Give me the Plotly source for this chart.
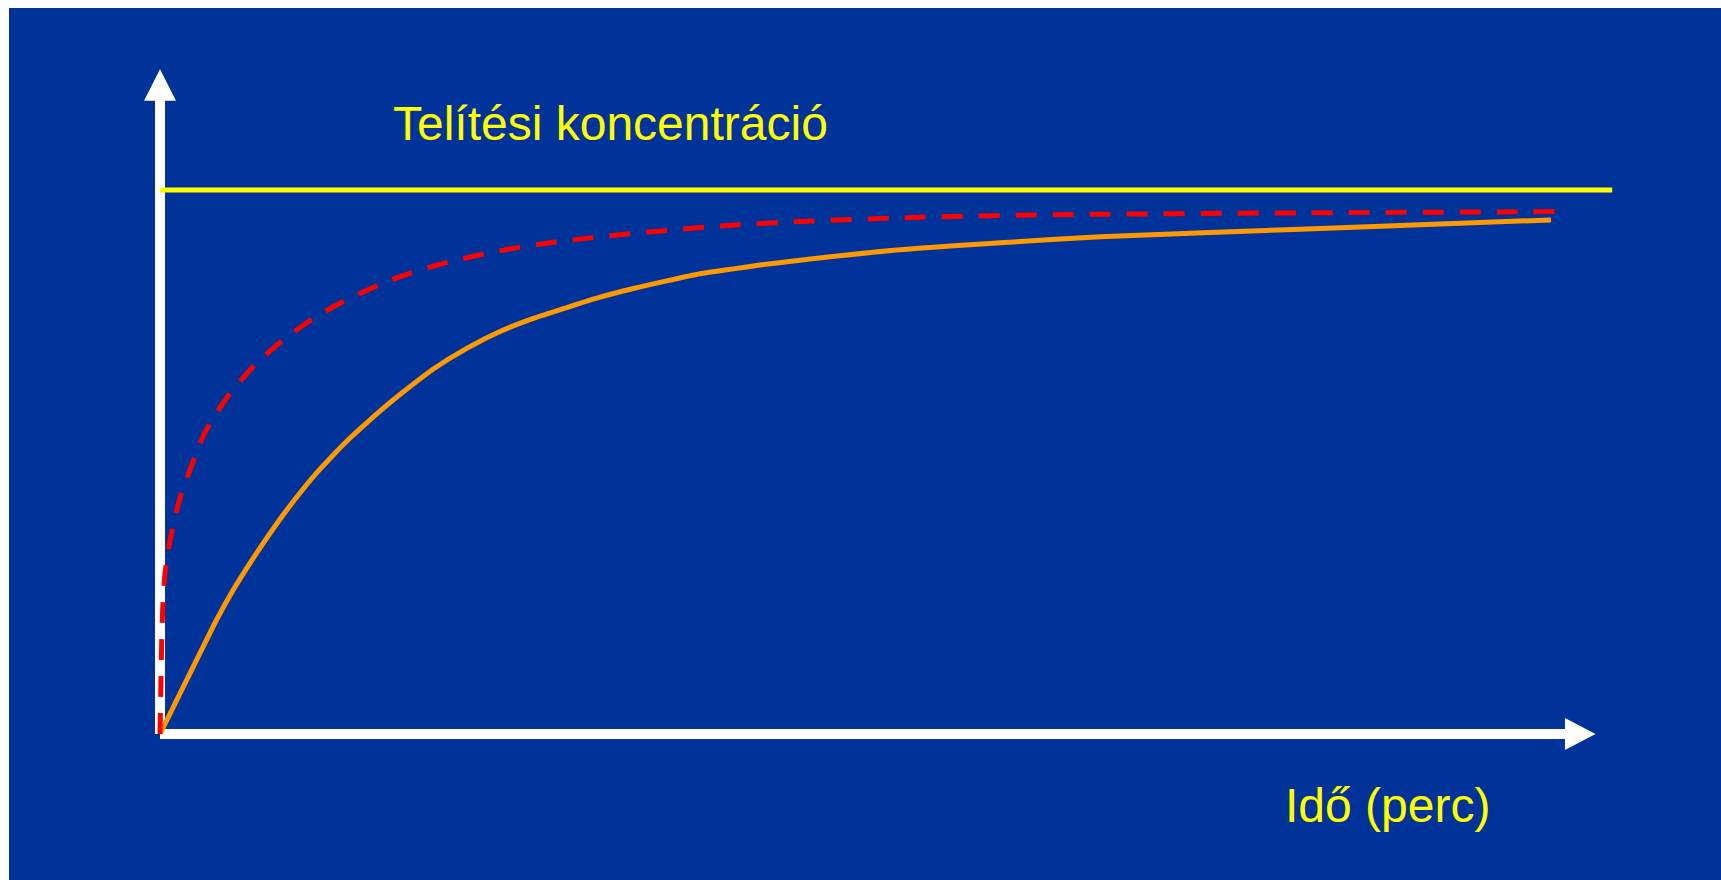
import plotly.graph_objects as go

# ---- data (time in arbitrary minutes, concentration in % of saturation) ----
t_slow = [0, 1.68, 2.88, 4.07, 5.27, 6.47, 7.67, 8.86, 10.06, 11.26, 12.46, 13.66,
          14.86, 16.06, 17.25, 19.65, 22.05, 24.44, 26.84, 29.24, 31.63, 34.03,
          36.43, 38.82, 41.22, 43.13, 46.0, 53.2, 60.4, 67.6, 82.0, 100.0]
c_slow = [0, 8.7, 14.9, 21.0, 26.5, 31.4, 36.0, 40.3, 44.3, 48.0, 51.3, 54.4,
          57.2, 59.9, 62.4, 67.1, 70.9, 74.0, 76.4, 78.4, 80.3, 81.9,
          83.3, 84.6, 85.5, 86.2, 87.1, 89.0, 90.3, 91.4, 92.8, 94.5]

t_fast = [0, 0.07, 0.12, 0.19, 0.36, 0.77, 1.39, 2.28, 3.24, 4.8, 6.47, 8.39, 10.55,
          12.8, 15.6, 17.73, 20.37, 23.0, 25.64, 28.28, 30.9, 33.55, 36.2, 38.82,
          41.57, 46.0, 53.2, 60.4, 65.6, 82.0, 97.6, 101.4]
c_fast = [0, 9.9, 16.7, 22.8, 29.6, 36.2, 43.0, 49.4, 55.5, 61.8, 66.9, 71.5, 75.6,
          79.0, 82.4, 84.5, 86.5, 88.1, 89.4, 90.4, 91.2, 91.9, 92.5, 93.1,
          93.6, 94.2, 94.9, 95.3, 95.5, 95.8, 96.0, 96.1]

saturation = 100
sat_t = [0, 104.4]

title_text = "Telítési koncentráció"
xlabel_text = "Idő (perc)"

W, H = 1721, 880
BLUE = "#003399"

fig = go.Figure()

fig.add_trace(go.Scatter(x=sat_t, y=[saturation, saturation], mode="lines",
                         line=dict(color="#FFFF00", width=5), hoverinfo="skip"))
fig.add_trace(go.Scatter(x=t_slow, y=c_slow, mode="lines",
                         line=dict(color="#FF9900", width=5, shape="spline", smoothing=0.6),
                         hoverinfo="skip"))
fig.add_trace(go.Scatter(x=t_fast, y=c_fast, mode="lines",
                         line=dict(color="#FF0000", width=5, dash="21px,16px",
                                   shape="spline", smoothing=0.6),
                         hoverinfo="skip"))

# axis geometry (data units)
x_range = [-11.503, 112.22]
y_range = [-26.84, 134.93]
px_per_t = W / (x_range[1] - x_range[0])
px_per_c = H / (y_range[1] - y_range[0])

y_tip, y_base = 122.2, 116.4
x_base, x_tip = 101.0, 103.2
hw_t = 16 / px_per_t
hh_c = 16 / px_per_c

shapes = [
    dict(type="rect", xref="paper", yref="paper", x0=9 / W, x1=1, y0=0, y1=1 - 8 / H,
         fillcolor=BLUE, line=dict(width=0), layer="below"),
    # y axis bar
    dict(type="line", x0=0, x1=0, y0=0, y1=y_base + 0.3, line=dict(color="white", width=10),
         layer="below"),
    # x axis bar
    dict(type="line", x0=0, x1=x_base + 0.1, y0=0, y1=0, line=dict(color="white", width=10),
         layer="below"),
    # y arrowhead
    dict(type="path",
         path=f"M {-hw_t} {y_base} L {hw_t} {y_base} L 0 {y_tip} Z",
         fillcolor="white", line=dict(width=0), layer="below"),
    # x arrowhead
    dict(type="path",
         path=f"M {x_base} {-hh_c} L {x_base} {hh_c} L {x_tip} 0 Z",
         fillcolor="white", line=dict(width=0), layer="below"),
]

annotations = [
    dict(text=title_text, xref="paper", yref="paper", x=391 / W, y=1 - 123 / H,
         xanchor="left", yanchor="middle", showarrow=False,
         font=dict(family="Liberation Sans, Arial", size=48, color="#FFFF00")),
    dict(text=xlabel_text, xref="paper", yref="paper", x=1283 / W, y=1 - 805 / H,
         xanchor="left", yanchor="middle", showarrow=False,
         font=dict(family="Liberation Sans, Arial", size=48, color="#FFFF00")),
]

fig.update_layout(
    width=W, height=H,
    margin=dict(l=0, r=0, t=0, b=0),
    paper_bgcolor="white", plot_bgcolor="rgba(0,0,0,0)",
    showlegend=False,
    xaxis=dict(range=x_range, visible=False, fixedrange=True),
    yaxis=dict(range=y_range, visible=False, fixedrange=True),
    shapes=shapes, annotations=annotations,
)

fig.write_html("out.html", config={"displayModeBar": False})
